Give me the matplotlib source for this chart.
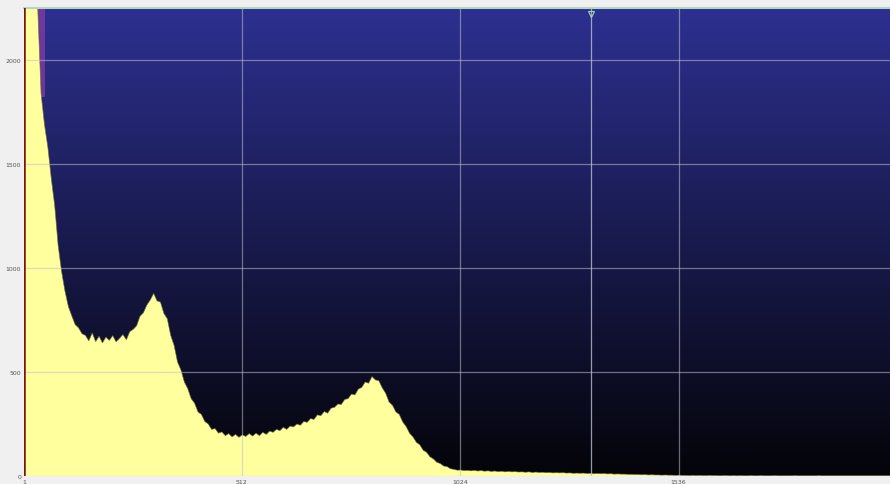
import numpy as np
import matplotlib.pyplot as plt
from matplotlib.colors import LinearSegmentedColormap

# spectrum: counts per channel, read every 8 channels
channels = np.arange(1, 2048, 8)
counts = [
    9000, 6500, 4200, 3000, 2260, 1840, 1690, 1580, 1430, 1300, 1110, 985, 890, 815, 770, 728,
    712, 684, 676, 650, 688, 646, 672, 640, 668, 652, 675, 645, 662, 680, 655, 694,
    705, 722, 768, 785, 822, 846, 878, 842, 836, 782, 756, 676, 628, 548, 510, 452,
    420, 372, 350, 308, 296, 262, 250, 224, 228, 206, 212, 194, 204, 188, 200, 186,
    198, 190, 204, 192, 206, 194, 210, 200, 216, 210, 224, 218, 234, 224, 240, 236,
    250, 244, 262, 258, 276, 272, 294, 290, 310, 302, 326, 330, 346, 344, 368, 372,
    394, 390, 418, 426, 452, 446, 478, 462, 458, 424, 398, 356, 340, 308, 296, 260,
    238, 206, 188, 162, 150, 124, 114, 92, 82, 66, 60, 48, 45, 35, 32, 28,
    29, 26, 27, 25, 27, 24, 26, 23, 25, 22, 24, 21, 23, 20, 22, 20,
    21, 19, 20, 18, 20, 17, 19, 17, 18, 16, 17, 15, 16, 15, 16, 14,
    15, 13, 14, 13, 14, 12, 13, 11, 12, 11, 12, 10, 11, 9, 10, 9,
    9, 8, 8, 7, 7, 6, 7, 5, 6, 5, 5, 4, 5, 4, 4, 3,
    4, 3, 3, 2, 3, 2, 3, 2, 2, 3, 2, 2, 1, 2, 2, 1,
    2, 1, 2, 1, 1, 2, 1, 1, 2, 1, 1, 1, 2, 1, 1, 1,
    1, 1, 2, 1, 1, 1, 1, 1, 1, 2, 1, 1, 1, 1, 1, 1,
    1, 1, 1, 1, 1, 1, 1, 1, 1, 1, 1, 1, 1, 1, 1, 1,
]
x_ticks = [1, 512, 1024, 1536, 2048]
y_ticks = [0, 500, 1000, 1500, 2000]
marker_channel = 1331
roi = (30, 50)

fig = plt.figure(figsize=(8.9, 4.85), dpi=100, facecolor='#f0f0f0')
ax = fig.add_axes([24 / 890, 8 / 485, 873 / 890, 468 / 485])
ax.set_xlim(1, 2048)
ax.set_ylim(0, 2250)

# background gradient blue -> black
bg = LinearSegmentedColormap.from_list('bg', ['#040409', '#2d3090'])
grad = np.linspace(0, 1, 256).reshape(-1, 1)
ax.imshow(grad, cmap=bg, origin='lower', aspect='auto',
          extent=[0, 1, 0, 1], transform=ax.transAxes, zorder=0)

# roi highlight
ax.axvspan(roi[0], roi[1], ymin=0.81, ymax=1, color='#7a3aa0', alpha=0.85, lw=0, zorder=0.5)

ax.fill_between(channels, counts, 0, color='#ffff9e', lw=0, zorder=1)
ax.plot(channels, counts, color='#6a6a3a', lw=0.5, alpha=0.8, zorder=1.2)

ax.set_xticks(x_ticks)
ax.set_yticks(y_ticks)
ax.tick_params(length=0, labelsize=4.5, labelcolor='#555555', pad=2)
ax.grid(True, color='#c0c0d0', alpha=0.55, lw=0.9)
ax.set_axisbelow(False)

# marker cursor
ax.axvline(marker_channel, color='#b8c0d0', lw=0.9, alpha=0.8, zorder=3)
ax.plot([marker_channel], [2220], marker='v', ms=4.5, mfc='none', mec='#a8d8b0', mew=0.8,
        clip_on=False, zorder=4)

ax.axvline(1, color='#7a1414', lw=1.8, zorder=4)
for s in ['left', 'right', 'bottom']:
    ax.spines[s].set_visible(False)
ax.spines['top'].set_color('#b0d8c0')
ax.spines['top'].set_linewidth(1.5)

fig.savefig('out.png', dpi=100, facecolor=fig.get_facecolor())
